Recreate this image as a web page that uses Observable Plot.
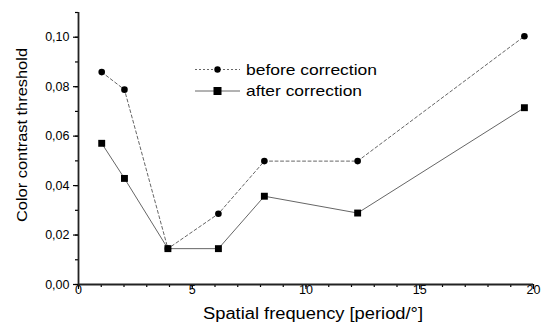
<!DOCTYPE html>
<html><head><meta charset="utf-8">
<script src="https://cdn.jsdelivr.net/npm/d3@7"></script>
<script src="https://cdn.jsdelivr.net/npm/@observablehq/plot@0.6"></script>
<style>
html,body{margin:0;padding:0;background:#fff;}
#chart{position:relative;width:544px;height:325px;}
</style>
</head><body><div id="chart"></div>
<script>
const freq = [1.02, 2.02, 3.93, 6.15, 8.17, 12.27, 19.6];
const before = [0.0859, 0.0788, 0.0145, 0.0286, 0.0499, 0.0499, 0.1004];
const after = [0.0571, 0.0429, 0.0145, 0.0145, 0.0357, 0.0289, 0.0715];
const xMajor = [0, 5, 10, 15, 20];
const xMinor = d3.range(0, 21, 1);
const yMajor = [0, 0.02, 0.04, 0.06, 0.08, 0.10];
const yMinor = d3.range(0, 0.111, 0.01);
const legendLabels = ["before correction", "after correction"];

const dBefore = freq.map((f, i) => ({x: f, y: before[i]}));
const dAfter = freq.map((f, i) => ({x: f, y: after[i]}));
const fmt = d => d3.format(".2f")(d).replace(".", ",");
const font = "'Liberation Sans', Arial, sans-serif";

const plot = Plot.plot({
  width: 544, height: 325,
  marginLeft: 78, marginRight: 11, marginTop: 12, marginBottom: 41,
  style: {fontFamily: font, fontSize: "12.5px", color: "#000", background: "#fff"},
  x: {domain: [0, 20], axis: null},
  y: {domain: [0, 0.11], axis: null},
  marks: [
    Plot.axisY({ticks: yMinor, tickSize: 3, tickFormat: () => "", strokeWidth: 1.2, label: null}),
    Plot.axisY({ticks: yMajor, tickSize: 5, tickPadding: 4, tickFormat: fmt, strokeWidth: 1.2, fontSize: 12.5, label: null}),
    Plot.axisX({ticks: xMinor, tickSize: 3, tickFormat: () => "", strokeWidth: 1.2, label: null}),
    Plot.axisX({ticks: xMajor, tickSize: 5, tickFormat: () => "", strokeWidth: 1.2, label: null}),
    Plot.axisX({ticks: xMajor, tickSize: 0, tickPadding: 1, fontSize: 12.5, label: null}),
    Plot.ruleY([0], {stroke: "#222", strokeWidth: 1.8}),
    Plot.ruleX([0], {stroke: "#222", strokeWidth: 1.8}),
    Plot.line(dBefore, {x: "x", y: "y", stroke: "#666", strokeWidth: 1, strokeDasharray: "3,2.5"}),
    Plot.line(dAfter, {x: "x", y: "y", stroke: "#666", strokeWidth: 1}),
    Plot.dot(dBefore, {x: "x", y: "y", r: 3.3, fill: "#000", stroke: "none"}),
    Plot.dot(dAfter, {x: "x", y: "y", r: 3.9, symbol: "square", fill: "#000", stroke: "none"})
  ]
});
document.getElementById("chart").appendChild(plot);

const svg = d3.select(plot);
// axis titles
svg.append("text").attr("x", 313).attr("y", 313).attr("dy", "0.35em").attr("text-anchor", "middle")
  .attr("textLength", 220).attr("lengthAdjust", "spacingAndGlyphs")
  .style("font-family", font).style("font-size", "16px").attr("fill", "#000")
  .text("Spatial frequency [period/°]");
svg.append("text").attr("transform", "translate(22,135) rotate(-90)").attr("dy", "0.35em").attr("text-anchor", "middle")
  .attr("textLength", 174).attr("lengthAdjust", "spacingAndGlyphs")
  .style("font-family", font).style("font-size", "15px").attr("fill", "#000")
  .text("Color contrast threshold");

// legend
const lg = svg.append("g").attr("transform", "translate(195,69.5)");
legendLabels.forEach((lab, i) => {
  const g = lg.append("g").attr("transform", `translate(0,${i * 21.5})`);
  g.append("line").attr("x1", 0).attr("x2", 45).attr("y1", 0).attr("y2", 0)
    .attr("stroke", "#666").attr("stroke-width", 1)
    .attr("stroke-dasharray", i === 0 ? "2,2" : null);
  if (i === 0) g.append("circle").attr("cx", 22.5).attr("cy", 0).attr("r", 3.2).attr("fill", "#000");
  else g.append("rect").attr("x", 18.5).attr("y", -4).attr("width", 8).attr("height", 8).attr("fill", "#000");
  g.append("text").attr("x", 51).attr("y", 0).attr("dy", "0.35em").attr("text-anchor", "start")
    .attr("textLength", i === 0 ? 131 : 116).attr("lengthAdjust", "spacingAndGlyphs")
    .style("font-family", font).style("font-size", "15px").attr("fill", "#000").text(lab);
});
</script></body></html>
